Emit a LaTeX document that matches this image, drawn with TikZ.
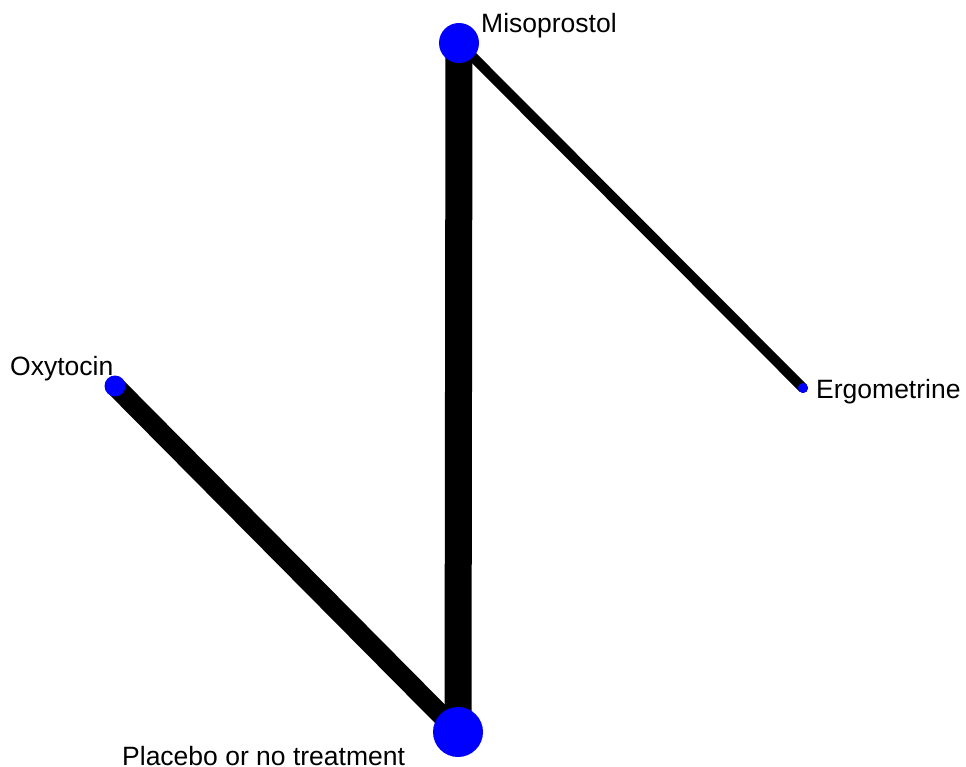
\documentclass[tikz,border=0pt]{standalone}
\usepackage{fontspec}
\setmainfont{Liberation Sans}
\begin{document}
\begin{tikzpicture}[x=1pt,y=-1pt,
  vert/.style={circle,fill=blue,inner sep=0pt,minimum size=#1},
  edge/.style={line width=#1,line cap=round,black},
  lab/.style={inner sep=0pt,font=\fontsize{26.5}{30}\selectfont,anchor=base west}]
\useasboundingbox (0,0) rectangle (966,767);
\coordinate (mis) at (459,43);
\coordinate (pla) at (458,732);
\coordinate (oxy) at (115,386);
\coordinate (erg) at (803,388);
\draw[edge=27pt] (mis) -- (pla);
\draw[edge=20pt] (oxy) -- (pla);
\draw[edge=10pt] (mis) -- (erg);
\node[vert=40pt] (nmis) at (mis) {};
\node[vert=50pt] (npla) at (pla) {};
\node[vert=21pt] (noxy) at (oxy) {};
\node[vert=10pt] (nerg) at (erg) {};
\node[lab] (lmis) at (481,33) {Misoprostol};
\node[lab] (loxy) at (10,375) {Oxytocin};
\node[lab] (lerg) at (816,398) {Ergometrine};
\node[lab] (lpla) at (122,765) {Placebo or no treatment};
\end{tikzpicture}
\end{document}
